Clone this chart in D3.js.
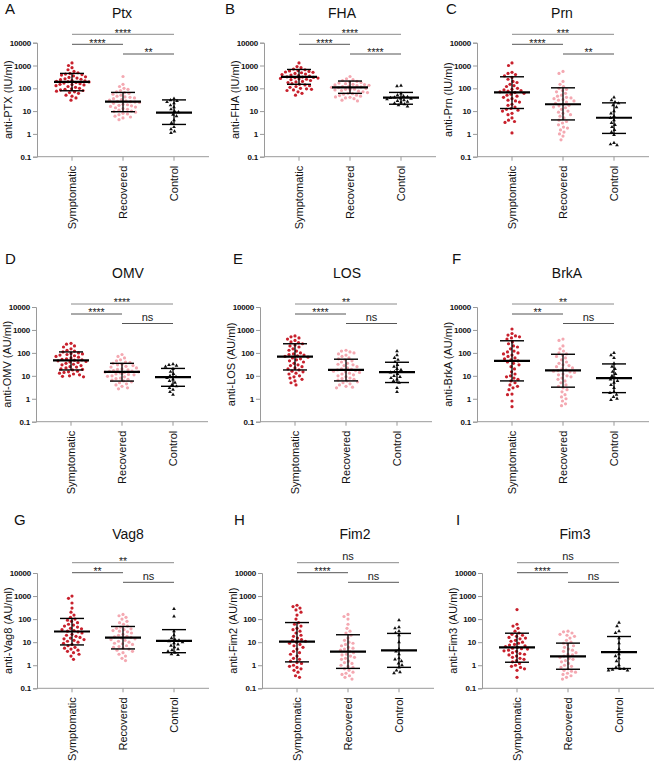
<!DOCTYPE html>
<html><head><meta charset="utf-8">
<script src="https://cdn.jsdelivr.net/npm/d3@7"></script>
<style>body{margin:0;background:#fff} svg{display:block;font-family:Arial,"Liberation Sans",sans-serif}</style>
</head><body><svg id="c" width="660" height="762"></svg>
<script>
const categories = ["Symptomatic", "Recovered", "Control"];
const yTicks = [0.1, 1, 10, 100, 1000, 10000];
const yTickLabels = ["0.1", "1", "10", "100", "1000", "10000"];
const panelLetters = ["A","B","C","D","E","F","G","H","I"];
const panelTitles = ["Ptx","FHA","Prn","OMV","LOS","BrkA","Vag8","Fim2","Fim3"];
const yLabels = ["anti-PTX (IU/ml)","anti-FHA (IU/ml)","anti-Prn (IU/ml)","anti-OMV (AU/ml)","anti-LOS (AU/ml)","anti-BrkA (AU/ml)","anti-Vag8 (AU/ml)","anti-Fim2 (AU/ml)","anti-Fim3 (AU/ml)"];

// significance labels: [Symptomatic–Control, Symptomatic–Recovered, Recovered–Control]
const ptxSig = ["****","****","**"];
const fhaSig = ["****","****","****"];
const prnSig = ["***","****","**"];
const omvSig = ["****","****","ns"];
const losSig = ["**","****","ns"];
const brkaSig = ["**","**","ns"];
const vag8Sig = ["**","**","ns"];
const fim2Sig = ["ns","****","ns"];
const fim3Sig = ["ns","****","ns"];

// bars per group: [centre, lower, upper]
const ptxBars = [[190,78,450],[26,9.4,66],[8.5,2.6,31]];
const fhaBars = [[320,150,670],[110,60,208],[39,20,66]];
const prnBars = [[66,13,320],[20,4.1,105],[5.1,1.05,23]];
const omvBars = [[47,18,110],[15,5.9,35],[8.7,3.5,21]];
const losBars = [[69,18,250],[18,6,53],[14.4,5.1,39]];
const brkaBars = [[45,6,337],[17.4,3.2,87],[7.9,1.85,33]];
const vag8Bars = [[29,7.6,107],[15.8,5.1,48],[11.5,3.5,35]];
const fim2Bars = [[10.5,1.4,71],[3.9,0.73,21],[4.4,0.81,24]];
const fim3Bars = [[5.9,1.35,24.5],[2.4,0.67,9.1],[3.7,0.72,17.6]];

// individual values
const ptxSym = [1300,1000,800,650,550,480,450,420,400,380,350,320,300,280,260,250,240,220,210,200,195,190,180,170,160,150,145,140,130,120,110,100,95,90,85,80,75,70,65,60,50,45,38,30];
const ptxRec = [330,150,120,100,90,80,70,65,60,55,50,45,42,40,38,35,32,30,28,27,26,25,24,22,20,19,18,17,16,15,14,13,12,11,10,9.5,9,8,7.5,7,6,5.5,5,4.2];
const ptxCon = [35,30,28,25,22,18,15,12,10,9,7,6,4,3,2,1.6,1.3,1.1];

const fhaSym = [1300,900,800,700,650,600,580,550,520,500,480,450,420,400,380,360,340,320,310,300,290,280,270,260,250,240,220,200,190,180,160,150,140,130,120,110,100,95,90,85,80,70,60,50];
const fhaRec = [330,260,240,220,200,190,180,170,160,150,145,140,135,130,125,120,115,110,108,105,102,100,98,95,92,90,88,85,80,75,70,65,60,58,55,50,48,45,42,40,38,35,30,28];
const fhaCon = [130,125,60,50,45,42,40,38,36,35,33,30,28,26,24,22,20,18,16];

const prnSym = [1300,1000,500,450,400,350,300,250,200,180,150,130,120,100,90,85,80,75,70,65,60,55,50,45,40,35,30,28,25,20,18,15,13,12,11,10,8,7,5,4,3.5,3.2,1.1];
const prnRec = [550,450,200,150,120,100,90,80,70,60,50,45,40,38,35,32,30,28,25,22,20,18,17,15,14,12,10,9,8,7,6,5,4,3.5,3,2.5,2,1.8,1.5,1.2,1,0.8,0.55];
const prnCon = [40,30,25,22,18,15,10,8,6,5,4,3,2.5,2,1.5,1.2,0.9,0.4,0.35,0.32];

const omvSym = [260,240,200,180,150,130,120,110,100,95,90,85,80,75,70,65,60,55,52,50,48,45,42,40,38,35,32,30,28,25,24,22,20,19,18,16,15,14,13,12,11,10,9.5,9];
const omvRec = [85,70,60,50,45,40,38,35,32,30,28,26,24,22,20,19,18,17,16,15.5,15,14.5,14,13.5,13,12.5,12,11.5,11,10,9.5,9,8,7.5,7,6.5,6,5.5,5,4.5,4,3.5,3,2.7];
const omvCon = [32,30,28,25,20,15,12,10,9,8,7,6,5,4,3.5,3,2.5,2,1.5];

const losSym = [550,500,450,400,350,300,280,250,220,200,180,150,130,120,100,90,85,80,75,70,65,60,55,50,45,40,35,30,28,25,22,20,18,16,15,13,12,10,9,8,7,6,5,4];
const losRec = [130,120,110,100,90,80,70,60,55,50,45,40,35,32,30,28,25,22,20,19,18,17,16,15,14,13,12,11,10,9,8,7.5,7,6.5,6,5.5,5,4.5,4,3.5,3.2,3];
const losCon = [120,80,60,50,40,30,25,20,18,15,14,12,10,9,8,7,6,5,3,2];

const brkaSym = [1100,700,600,550,500,450,400,300,250,200,180,150,120,110,100,90,80,70,60,55,50,45,40,35,30,25,20,15,12,10,9,8,7,6,5,4,3.5,3,2.5,1.6,1.5,0.8,0.45];
const brkaRec = [400,350,200,150,120,100,90,80,70,60,50,40,35,30,28,25,22,20,18,17,16,15,14,12,11,10,9,8,7,6,5,4,3.5,3,2.5,2,1.5,1.2,1,0.8,0.6,0.5];
const brkaCon = [100,80,60,35,25,20,15,12,10,8,7,6,5,4,3,2,1.8,1.5,1.2,1,0.9];

const vag8Sym = [1000,800,500,300,200,150,120,100,90,80,70,60,55,50,45,40,38,35,32,30,28,25,22,20,18,16,15,14,13,12,11,10,9,8,7,6,5.5,5,4.5,4,3.5,3,2.5,1.8];
const vag8Rec = [160,140,120,100,80,70,60,50,45,40,38,35,32,30,28,25,22,20,18,17,16,15,14,13,12,11,10,9,8.5,8,7,6.5,6,5.5,5,4.5,4,3.5,3,2.5,2,1.6];
const vag8Con = [280,130,30,20,15,13,12,11,10,9,8,7,6,5,4.5,4,3.5,3,2.8];

const fim2Sym = [400,350,300,250,200,150,100,70,60,50,40,35,30,25,20,18,15,13,12,11,10,9,8,7,6,5,4,3.5,3,2.5,2,1.8,1.5,1.3,1.2,1,0.9,0.8,0.7,0.6,0.5,0.35,0.3];
const fim2Rec = [160,130,100,60,40,30,25,20,15,12,10,9,8,7,6,5.5,5,4.5,4,3.5,3,2.8,2.5,2.2,2,1.8,1.5,1.3,1.2,1,0.9,0.8,0.7,0.6,0.5,0.45,0.4,0.35,0.3,0.25];
const fim2Con = [90,45,40,30,25,20,10,5,4,3,2,1.8,1.5,1.2,1,0.8,0.6,0.5,0.45];

const fim3Sym = [260,60,50,40,30,25,22,20,18,16,15,14,12,11,10,9,8,7.5,7,6.5,6,5.5,5.2,5,4.5,4.2,4,3.5,3.2,3,2.8,2.5,2.2,2,1.8,1.6,1.4,1.2,1,0.9,0.8,0.7,0.6,0.3];
const fim3Rec = [30,28,25,22,20,18,15,12,10,9,8,7,6,5,4.5,4,3.5,3,2.8,2.5,2.2,2,1.8,1.6,1.4,1.2,1,0.9,0.8,0.7,0.6,0.55,0.5,0.45,0.4,0.35,0.3,0.25];
const fim3Con = [70,50,30,25,15,9,5,3,2.5,2,1.5,1,0.8,0.7,0.7,0.65,0.6,0.6];

const panelGroups = [
  [ptxSym,ptxRec,ptxCon],[fhaSym,fhaRec,fhaCon],[prnSym,prnRec,prnCon],
  [omvSym,omvRec,omvCon],[losSym,losRec,losCon],[brkaSym,brkaRec,brkaCon],
  [vag8Sym,vag8Rec,vag8Con],[fim2Sym,fim2Rec,fim2Con],[fim3Sym,fim3Rec,fim3Con]
];
const panelBars = [ptxBars,fhaBars,prnBars,omvBars,losBars,brkaBars,vag8Bars,fim2Bars,fim3Bars];
const panelSig = [ptxSig,fhaSig,prnSig,omvSig,losSig,brkaSig,vag8Sig,fim2Sig,fim3Sig];

// ---------- layout ----------
const axisX = [37,264,477, 36,260,477, 37,262,482];
const rowTop = [42.7, 307, 573], rowBot = [156.7, 421.7, 688.3];
const sigYs = [[34.3,44.3,54],[304,314,323.5],[562.7,572.7,582.3]];
const titleX = [122,342,562, 128,347,567, 128,355,575];
const titleY = [18, 278, 539];
const letterX = [5,225,446, 5,233,452, 14,234,456];
const letterY = [14, 264, 525];
const colors = ["#c8202c", "#f4a8b1", "#111"];

const svg = d3.select("#c");

function swarm(vals, y, r) {
  const pts = vals.map(v => ({v, y: y(v)})).sort((a,b) => a.y - b.y);
  const placed = [];
  const d = 2*r + 0.9;
  for (const p of pts) {
    let off = 0;
    for (let k = 0; k < 80; k++) {
      const o = (k % 2 === 0 ? 1 : -1) * Math.ceil(k/2) * 0.5;
      let ok = true;
      for (const q of placed) {
        const dy = q.y - p.y;
        if (Math.abs(dy) < d && Math.hypot(q.x - o, dy) < d) { ok = false; break; }
      }
      if (ok) { off = o; break; }
    }
    p.x = off;
    placed.push(p);
  }
  return pts;
}

panelLetters.forEach((L, i) => {
  const row = Math.floor(i / 3);
  const ax = axisX[i];
  const g = svg.append("g");
  const y = d3.scaleLog().domain([0.1, 10000]).range([rowBot[row], rowTop[row]]);
  const x = d3.scalePoint().domain(categories).range([ax + 35, ax + 137]);

  // letter & title
  g.append("text").attr("x", letterX[i]).attr("y", letterY[row]).attr("font-size", 15).attr("fill", "#111").text(L);
  g.append("text").attr("x", titleX[i]).attr("y", titleY[row]).attr("font-size", 14).attr("fill", "#111")
    .attr("text-anchor", "middle").text(panelTitles[i]);

  // y axis
  const yAxis = d3.axisLeft(y).tickValues(yTicks).tickFormat((d, k) => yTickLabels[k]).tickSize(4).tickPadding(2);
  const ya = g.append("g").attr("transform", `translate(${ax},0)`).call(yAxis);
  ya.select(".domain").attr("stroke", "#9a9a9a");
  ya.selectAll(".tick line").attr("stroke", "#9a9a9a");
  ya.selectAll(".tick text").attr("font-size", 8).attr("font-weight", "bold").attr("fill", "#111")
    .attr("letter-spacing", "-0.2px")
    .attr("font-family", "Arial, 'Liberation Sans', sans-serif");

  // x axis
  const xa = g.append("g").attr("transform", `translate(0,${rowBot[row]})`);
  xa.append("line").attr("x1", ax).attr("x2", ax + 172).attr("y1", 0).attr("y2", 0).attr("stroke", "#9a9a9a");
  categories.forEach(c => {
    xa.append("line").attr("x1", x(c)).attr("x2", x(c)).attr("y1", 0).attr("y2", 4).attr("stroke", "#9a9a9a");
    xa.append("text").attr("transform", `translate(${x(c) + 4},${9}) rotate(-90)`)
      .attr("text-anchor", "end").attr("font-size", 11).attr("fill", "#111").text(c);
  });

  // y label
  g.append("text").attr("transform", `translate(${ax - 29},${(rowTop[row] + rowBot[row]) / 2}) rotate(-90)`)
    .attr("text-anchor", "middle").attr("dy", "0.35em").attr("font-size", 11).attr("fill", "#111").text(yLabels[i]);

  // points
  categories.forEach((c, gi) => {
    if (gi < 2) {
      const pts = swarm(panelGroups[i][gi], y, 1.6);
      g.append("g").selectAll("circle").data(pts).join("circle")
        .attr("cx", p => x(c) + p.x).attr("cy", p => p.y).attr("r", 1.6).attr("fill", colors[gi]);
    } else {
      const pts = swarm(panelGroups[i][gi], y, 1.4);
      const sym = d3.symbol().type(d3.symbolTriangle).size(6);
      g.append("g").selectAll("path").data(pts).join("path")
        .attr("transform", p => `translate(${x(c) + p.x},${p.y})`).attr("d", sym).attr("fill", colors[gi]);
    }
  });

  // error bars
  categories.forEach((c, gi) => {
    const [m, lo, hi] = panelBars[i][gi];
    const cx = x(c);
    g.append("line").attr("x1", cx).attr("x2", cx).attr("y1", y(lo)).attr("y2", y(hi)).attr("stroke", "#000").attr("stroke-width", 1.3);
    [lo, hi].forEach(v => g.append("line").attr("x1", cx - 12).attr("x2", cx + 12).attr("y1", y(v)).attr("y2", y(v))
      .attr("stroke", "#000").attr("stroke-width", 1.4));
    g.append("line").attr("x1", cx - 18).attr("x2", cx + 18).attr("y1", y(m)).attr("y2", y(m)).attr("stroke", "#000").attr("stroke-width", 2.2);
  });

  // significance
  const pairs = [[0, 2], [0, 1], [1, 2]];
  pairs.forEach((pr, k) => {
    const by = sigYs[row][k];
    const x1 = x(categories[pr[0]]), x2 = x(categories[pr[1]]);
    g.append("line").attr("x1", x1).attr("x2", x2).attr("y1", by).attr("y2", by)
      .attr("stroke", k === 0 ? "#8a8a8a" : "#555").attr("stroke-width", 1);
    const lab = panelSig[i][k];
    const isNs = lab === "ns";
    g.append("text").attr("x", (x1 + x2) / 2).attr("y", isNs ? by - 2.5 : by + 2.2)
      .attr("text-anchor", "middle").attr("font-size", isNs ? 11 : 10.5).attr("fill", "#222").text(lab);
  });
});
</script></body></html>
